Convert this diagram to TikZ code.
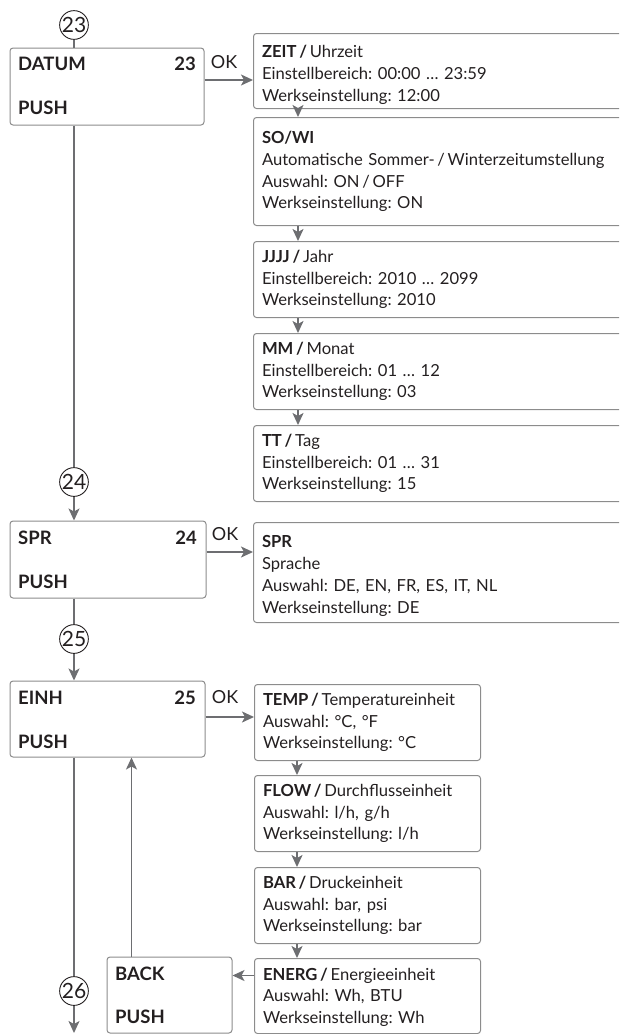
\documentclass[tikz,border=0pt]{standalone}
\usepackage{fontspec}
\setmainfont{Lato}
\usetikzlibrary{arrows.meta}
\definecolor{boxgray}{HTML}{8C8C8C}
\definecolor{arrgray}{HTML}{6D6E71}
\definecolor{txt}{HTML}{231F20}
\frenchspacing
\begin{document}
\begin{tikzpicture}[x=1pt,y=-1pt,
  every node/.style={text=txt},
  lbox/.style={draw=boxgray, line width=1pt, rounded corners=3pt, inner sep=0pt},
  rbox/.style={draw=boxgray, line width=1pt, rounded corners=3pt, anchor=north west,
    align=left, inner xsep=8.5pt, inner ysep=0pt, font=\fontsize{16.6}{21.8}\selectfont},
  lbl/.style={inner sep=0pt, font=\bfseries\fontsize{18.5}{20}\selectfont},
  oklbl/.style={inner sep=0pt, font=\fontsize{18}{20}\selectfont},
  circ/.style={circle, draw=txt, line width=0.9pt, minimum size=27.5pt, inner sep=0pt,
    font=\fontsize{21}{21}\selectfont},
  arr/.style={draw=arrgray, line width=1.6pt, -{Stealth[length=12pt,width=11pt,inset=3pt]}},
  ln/.style={draw=arrgray, line width=1.6pt}
]
\useasboundingbox (0,0) rectangle (619,1034);
\clip (0,0) rectangle (619,1034);

% ---- left column boxes
\node[lbox, minimum width=194pt, minimum height=77pt] (datum) at (107,86.5) {};
\node[lbl, anchor=west] (datumT) at (18,64) {DATUM};
\node[lbl, anchor=east] (datumN) at (196,64) {23};
\node[lbl, anchor=west] (datumP) at (18,108) {PUSH};

\node[lbox, minimum width=196pt, minimum height=77pt] (spr) at (108,559.5) {};
\node[lbl, anchor=west] (sprT) at (18,538) {SPR};
\node[lbl, anchor=east] (sprN) at (197,538) {24};
\node[lbl, anchor=west] (sprP) at (18,582) {PUSH};

\node[lbox, minimum width=195pt, minimum height=76pt] (einh) at (107.5,719) {};
\node[lbl, anchor=west] (einhT) at (18,698) {EINH};
\node[lbl, anchor=east] (einhN) at (196,698) {25};
\node[lbl, anchor=west] (einhP) at (18,742) {PUSH};

\node[lbox, minimum width=125pt, minimum height=76pt] (back) at (169.5,995) {};
\node[lbl, anchor=west] (backT) at (115,974) {BACK};
\node[lbl, anchor=west] (backP) at (115,1017) {PUSH};

% ---- circles
\node[circ] (c23) at (74,25) {23};
\node[circ] (c24) at (74,482) {24};
\node[circ] (c25) at (74,639) {25};
\node[circ] (c26) at (74,991) {26};

% ---- OK labels
\node[oklbl] (ok1) at (224,62) {OK};
\node[oklbl] (ok2) at (225,534) {OK};
\node[oklbl] (ok3) at (225,697) {OK};

% ---- right boxes (upper, open to the right)
\node[rbox, text width=371pt, minimum height=75pt] (zeit) at (253,33)
  {\rule{0pt}{20pt}\textbf{ZEIT\,/}\,Uhrzeit\\Einstellbereich: 00:00 … 23:59\\Werkseinstellung: 12:00};
\node[rbox, text width=371pt, minimum height=108pt] (sowi) at (253,117)
  {\textbf{SO/WI}\\Automatische Sommer-\,/\,Winterzeitumstellung\\Auswahl: ON\,/\,OFF\\Werkseinstellung: ON};
\node[rbox, text width=371pt, minimum height=76pt] (jjjj) at (253,241)
  {\textbf{JJJJ\,/}\,Jahr\\Einstellbereich: 2010 … 2099\\Werkseinstellung: 2010};
\node[rbox, text width=371pt, minimum height=76pt] (mm) at (253,333)
  {\textbf{MM\,/}\,Monat\\Einstellbereich: 01 … 12\\Werkseinstellung: 03};
\node[rbox, text width=371pt, minimum height=76pt] (tt) at (253,425)
  {\textbf{TT\,/}\,Tag\\Einstellbereich: 01 … 31\\Werkseinstellung: 15};
\node[rbox, text width=371pt, minimum height=100pt] (sprr) at (253,522)
  {\rule{0pt}{19pt}\textbf{SPR}\\Sprache\\Auswahl: DE, EN, FR, ES, IT, NL\\Werkseinstellung: DE};

% ---- right boxes (lower, closed)
\node[rbox, text width=209pt, minimum height=76pt] (temp) at (254,684)
  {\textbf{TEMP\,/}\,Temperatureinheit\\Auswahl: °C, °F\\Werkseinstellung: °C};
\node[rbox, text width=209pt, minimum height=76pt] (flow) at (254,775)
  {\textbf{FLOW\,/}\,Durchflusseinheit\\Auswahl: l/h, g/h\\Werkseinstellung: l/h};
\node[rbox, text width=209pt, minimum height=76pt] (bar) at (254,867)
  {\textbf{BAR\,/}\,Druckeinheit\\Auswahl: bar, psi\\Werkseinstellung: bar};
\node[rbox, text width=209pt, minimum height=75pt] (energ) at (254,958)
  {\rule{0pt}{15pt}\textbf{ENERG\,/}\,Energieeinheit\\Auswahl: Wh, BTU\\Werkseinstellung: Wh};

% ---- connectors left column
\draw[ln] (c23.south) -- (c23 |- datum.north);
\draw[ln] (c24 |- datum.south) -- (c24.north);
\draw[arr] (c24.south) -- (c24 |- spr.north);
\draw[ln] (c25 |- spr.south) -- (c25.north);
\draw[arr] (c25.south) -- (c25 |- einh.north);
\draw[ln] (c26 |- einh.south) -- (c26.north);
\coordinate (bot) at (74,1033);
\draw[arr] (c26.south) -- (bot);
\draw[arr] ([xshift=25pt]back.north west) -- ([xshift=25pt]back.north west |- einh.south);

% ---- OK arrows
\draw[arr] ([yshift=6.5pt]datum.east) -- ([yshift=6.5pt]datum.east -| zeit.west);
\draw[arr] ([yshift=7.5pt]spr.east) -- ([yshift=7.5pt]spr.east -| sprr.west);
\draw[arr] ([yshift=2pt]einh.east) -- ([yshift=2pt]einh.east -| temp.west);

% ---- chains
\draw[arr] ([xshift=45pt]zeit.south west) -- ([xshift=45pt]sowi.north west);
\draw[arr] ([xshift=45pt]sowi.south west) -- ([xshift=45pt]jjjj.north west);
\draw[arr] ([xshift=45pt]jjjj.south west) -- ([xshift=45pt]mm.north west);
\draw[arr] ([xshift=45pt]mm.south west) -- ([xshift=45pt]tt.north west);
\draw[arr] ([xshift=43pt]temp.south west) -- ([xshift=43pt]flow.north west);
\draw[arr] ([xshift=43pt]flow.south west) -- ([xshift=43pt]bar.north west);
\draw[arr] ([xshift=43pt]bar.south west) -- ([xshift=43pt]energ.north west);
\draw[arr] ([yshift=20.5pt]energ.west) -- ([yshift=20.5pt]energ.west -| back.east);
\end{tikzpicture}
\end{document}
